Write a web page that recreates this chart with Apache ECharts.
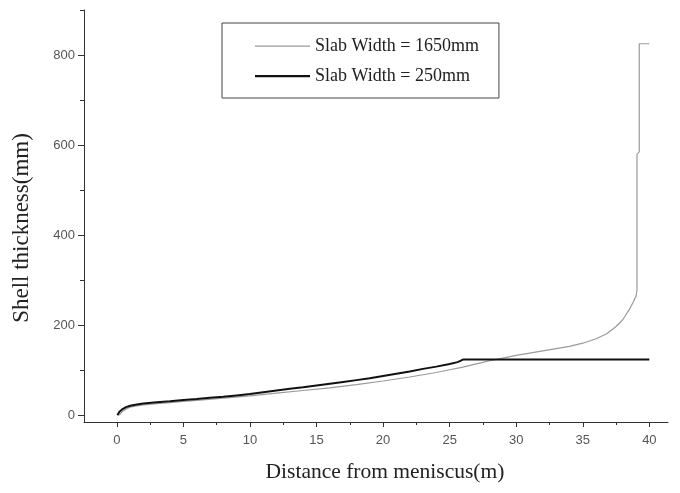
<!DOCTYPE html>
<html>
<head>
<meta charset="utf-8">
<script src="https://cdn.jsdelivr.net/npm/echarts@6/dist/echarts.min.js"></script>
<style>html,body{margin:0;padding:0;background:#fff}#c{width:680px;height:493px}</style>
</head>
<body>
<div id="c"></div>
<script>
// Slab Width = 1650mm (thin gray line): [distance m, shell thickness mm]
var dist1650 = [0.2, 0.4, 0.7, 1.0, 1.5, 2, 3, 4, 5, 6, 8, 10, 12, 14, 16, 18, 20, 22, 24, 25, 26, 27, 28, 29, 30, 31, 32, 33, 34, 35, 36, 36.8, 37.5, 38, 38.5, 38.8, 39.0, 39.07, 39.07, 39.24, 39.24, 40];
var thick1650 = [0, 8, 14, 18, 21, 23, 26, 28, 31, 33, 38, 43, 49, 55, 61, 68, 76, 85, 95, 101, 107, 114, 121, 127, 133, 138, 143, 148, 153, 160, 170, 181, 197, 212, 235, 252, 265, 278, 580, 585, 825, 825];
// Slab Width = 250mm (thick black line)
var dist250 = [0.05, 0.2, 0.4, 0.7, 1.0, 1.5, 2, 3, 4, 5, 6, 7, 8, 9, 10, 11, 12, 13, 14, 15, 16, 17, 18, 19, 20, 21, 22, 23, 24, 25, 25.6, 26.04, 30, 35, 40];
var thick250 = [0, 8, 13, 18, 21, 24, 26, 29, 31, 34, 36, 39, 41, 44, 47, 51, 55, 59, 62, 66, 70, 74, 78, 82, 87, 92, 97, 103, 108, 114, 118, 124, 124, 124, 124];

var xMajorTicks = [0, 5, 10, 15, 20, 25, 30, 35, 40];
var xMinorTicks = [2.5, 7.5, 12.5, 17.5, 22.5, 27.5, 32.5, 37.5];
var yMajorTicks = [0, 200, 400, 600, 800];
var yMinorTicks = [100, 300, 500, 700, 900];

var seriesNames = ['Slab Width = 1650mm', 'Slab Width = 250mm'];

function zip(a, b) { return a.map(function (v, i) { return [v, b[i]]; }); }

var axisLineStyle = { color: '#333', width: 1 };
var X_MIN = -2.46, X_MAX = 41.4, Y_MIN = -15, Y_MAX = 900;
var serif = 'Liberation Serif, Times New Roman, serif';
var sans = 'Liberation Sans, Arial, sans-serif';
// legend icons: a horizontal bar inside a 55x14 box (degenerate corners fix the box)
var thinIcon = 'path://M0,0L55,0L55,0.001ZM0,6.5h55v1.2h-55ZM0,14L0.001,14L0,14Z';
var thickIcon = 'path://M0,0L55,0L55,0.001ZM0,6h55v2.2h-55ZM0,14L0.001,14L0,14Z';

var chart = echarts.init(document.getElementById('c'));
chart.setOption({
  animation: false,
  backgroundColor: '#fff',
  grid: { left: 84, top: 10, right: 12, bottom: 71, containLabel: false, outerBoundsMode: 'none' },
  legend: {
    left: 222, top: 23,
    orient: 'vertical',
    padding: [14, 20, 13, 33],
    itemWidth: 55, itemHeight: 14, itemGap: 12,
    borderColor: '#444', borderWidth: 1,
    textStyle: { fontFamily: serif, fontSize: 18, color: '#222' },
    data: [
      { name: seriesNames[0], icon: thinIcon },
      { name: seriesNames[1], icon: thickIcon }
    ]
  },
  xAxis: [{
    type: 'value', min: X_MIN, max: X_MAX,
    name: 'Distance from meniscus(m)', nameLocation: 'middle', nameGap: 39,
    nameTextStyle: { fontFamily: serif, fontSize: 21.5, color: '#222', padding: [0, 0, 0, 18] },
    axisLine: { show: true, onZero: false, lineStyle: axisLineStyle },
    axisTick: { show: true, inside: false, length: 5, lineStyle: axisLineStyle, customValues: xMajorTicks },
    axisLabel: { margin: 12, customValues: xMajorTicks, color: '#555', fontSize: 13, fontFamily: sans },
    splitLine: { show: false }
  }, {
    type: 'value', min: X_MIN, max: X_MAX, position: 'bottom',
    axisLine: { show: false, onZero: false },
    axisTick: { show: true, length: 3, lineStyle: axisLineStyle, customValues: xMinorTicks },
    axisLabel: { show: false },
    splitLine: { show: false }
  }],
  yAxis: [{
    type: 'value', min: Y_MIN, max: Y_MAX,
    name: 'Shell thickness(mm)', nameLocation: 'middle', nameGap: 51, nameRotate: 90,
    nameTextStyle: { fontFamily: serif, fontSize: 23, color: '#222', padding: [0, 24, 0, 0] },
    axisLine: { show: true, onZero: false, lineStyle: axisLineStyle },
    axisTick: { show: true, length: 6, lineStyle: axisLineStyle, customValues: yMajorTicks },
    axisLabel: { margin: 9, customValues: yMajorTicks, color: '#555', fontSize: 13, fontFamily: sans },
    splitLine: { show: false }
  }, {
    type: 'value', min: Y_MIN, max: Y_MAX, position: 'left',
    axisLine: { show: false, onZero: false },
    axisTick: { show: true, length: 4, lineStyle: axisLineStyle, customValues: yMinorTicks },
    axisLabel: { show: false },
    splitLine: { show: false }
  }],
  series: [{
    name: seriesNames[0], type: 'line', symbol: 'none', showSymbol: false,
    xAxisIndex: 0, yAxisIndex: 0,
    lineStyle: { color: '#9a9a9a', width: 1.2 }, itemStyle: { color: '#9a9a9a' },
    data: zip(dist1650, thick1650)
  }, {
    name: seriesNames[1], type: 'line', symbol: 'none', showSymbol: false,
    xAxisIndex: 0, yAxisIndex: 0,
    lineStyle: { color: '#111', width: 2 }, itemStyle: { color: '#111' },
    data: zip(dist250, thick250)
  }]
});
</script>
</body>
</html>
